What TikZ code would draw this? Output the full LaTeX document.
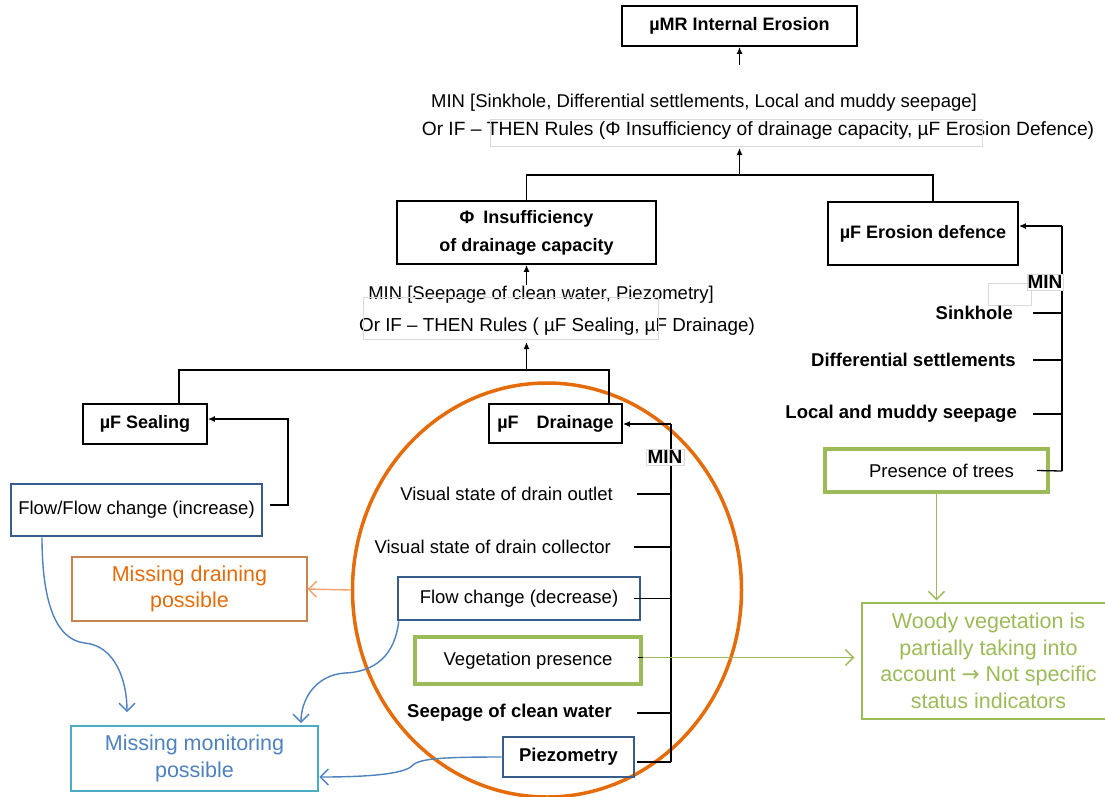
\documentclass[tikz,border=0pt]{standalone}
\usepackage{fontspec}
\setmainfont{Liberation Sans}
\newfontfamily\symfont{DejaVu Sans}
\usetikzlibrary{arrows.meta, shapes.geometric}

\definecolor{boxblue}{HTML}{385D8A}
\definecolor{leafgreen}{HTML}{9BBB59}
\definecolor{drainorange}{HTML}{E46C0A}
\definecolor{rustorange}{HTML}{C8834F}
\definecolor{paleorange}{HTML}{F2A36B}
\definecolor{skycyan}{HTML}{4BACC6}
\definecolor{textblue}{HTML}{4F81BD}

\begin{document}
\begin{tikzpicture}[
    x=1pt, y=-1pt,
    flow/.style={-{Latex[length=7pt, width=6pt]}, line width=1.3pt},
    softarrow/.style={-{Straight Barb[length=8pt, width=16pt]}, line width=1.4pt},
    bluecurve/.style={softarrow, draw=textblue},
    rule/.style={inner sep=0pt, font=\fontsize{18.5}{22}\selectfont},
    item/.style={inner sep=0pt, anchor=east, font=\fontsize{18.5}{22}\selectfont},
    bolditem/.style={item, font=\fontsize{18.5}{22}\selectfont\bfseries},
    box/.style={draw, line width=1.8pt, inner sep=0pt, align=center,
      font=\fontsize{18}{28}\selectfont\bfseries},
    bluebox/.style={draw=boxblue, line width=2.6pt, inner sep=0pt,
      font=\fontsize{18.5}{22}\selectfont},
    greenbox/.style={draw=leafgreen, line width=3.8pt, inner sep=0pt,
      font=\fontsize{18.5}{22}\selectfont},
    notebox/.style={line width=1.3pt, inner sep=0pt, align=center,
      font=\fontsize{21.5}{26.5}\selectfont},
    minlabel/.style={draw=gray!30, line width=0.6pt, fill=white, inner sep=1.5pt,
      font=\fontsize{19}{22}\selectfont\bfseries},
    ghost/.style={draw=gray!30, line width=0.6pt},
  ]
  \useasboundingbox (0,0) rectangle (1105,796);

  % ---- drainage zone (orange ellipse) ----
  \node[draw=drainorange, line width=3.5pt, ellipse, minimum width=389pt,
    minimum height=414pt] (drzone) at (547,590) {};

  % ---- top: internal erosion ----
  \node[box, minimum width=235pt, minimum height=40pt] (mr) at (739.5,26) {µMR Internal Erosion};
  \node[rule] (mrrule1) at (704,103) {MIN [Sinkhole, Differential settlements, Local and muddy seepage]};
  \node[rule, font=\fontsize{19.2}{22}\selectfont] (mrrule2) at (758,131)
    {Or IF – THEN Rules (Φ Insufficiency of drainage capacity, µF Erosion Defence)};
  \draw[ghost] (490,119) rectangle (982,146);
  \coordinate (mrin) at (739.5,65);
  \coordinate (mrjoin) at (739.5,175);
  \coordinate (mrrulebot) at (739.5,148);
  \draw[flow] (mrin) -- (mr.south);
  \draw[flow] (mrjoin) -- (mrrulebot);

  % ---- second level ----
  \node[box, minimum width=259pt, minimum height=63pt] (phi) at (526.5,232.5)
    {Φ\enspace Insufficiency\\of drainage capacity};
  \node[box, minimum width=190pt, minimum height=63pt] (ero) at (923,233.5) {µF Erosion defence};
  \draw[line width=1.3pt] (phi.north) |- (mrjoin) -| ([xshift=10pt]ero.north);

  % ---- rules under phi ----
  \node[rule] (phirule1) at (541,295) {MIN [Seepage of clean water, Piezometry]};
  \node[rule, font=\fontsize{18.8}{22}\selectfont] (phirule2) at (557,327)
    {Or IF – THEN Rules ( µF Sealing, µF Drainage)};
  \draw[ghost] (363,297) rectangle (658,339);
  \coordinate (phiin) at (526.5,285);
  \coordinate (phijoin) at (526.5,370);
  \coordinate (phirulebot) at (526.5,342);
  \draw[flow] (phiin) -- (phi.south);
  \draw[flow] (phijoin) -- (phirulebot);

  % ---- sealing ----
  \node[box, minimum width=124pt, minimum height=40pt] (seal) at (145,424) {µF Sealing};
  \node[bluebox, minimum width=251pt, minimum height=52pt] (flowup) at (136.5,510)
    {Flow/Flow change (increase)\\[-4pt]};
  \coordinate (sealbar) at (288,419);
  \draw[flow] ([xshift=7pt,yshift=5pt]flowup.east) -| (sealbar) -- (sealbar -| seal.east);

  % ---- drainage ----
  \node[box, minimum width=133pt, minimum height=39pt] (drain) at (555.5,423.5) {µF\quad Drainage};
  \draw[line width=1.3pt] ([xshift=34pt]seal.north) |- (phijoin) -| ([xshift=53.5pt]drain.north);

  \coordinate (drtop) at (671,424);
  \coordinate (drbot) at (671,762);
  \draw[line width=1.3pt] (drtop) -- (drbot);
  \draw[flow] (drtop) -- (drtop -| drain.east);
  \node[minlabel] (drmin) at (665,457) {MIN};

  \node[item] (outlet) at (613,494) {Visual state of drain outlet};
  \node[item] (collector) at (611,547) {Visual state of drain collector};
  \node[bluebox, minimum width=242pt, minimum height=43pt] (flowdown) at (519,598.5) {Flow change (decrease)};
  \node[greenbox, minimum width=226pt, minimum height=47pt] (veg) at (528,660.5) {Vegetation presence};
  \node[bolditem] (clean) at (612,713) {Seepage of clean water};
  \node[bluebox, minimum width=131pt, minimum height=40pt,
    font=\fontsize{18.5}{22}\selectfont\bfseries] (piezo) at (568.5,757) {Piezometry};

  \draw[line width=1.3pt] ([xshift=24pt]outlet.east) -- (outlet.east -| drbot);
  \draw[line width=1.3pt] ([xshift=23pt]collector.east) -- (collector.east -| drbot);
  \draw[line width=1.3pt] ([xshift=-7pt]flowdown.east) -- (flowdown.east -| drbot);
  \draw[line width=1.3pt] ([xshift=-5pt,yshift=3pt]veg.east) -- ([yshift=3pt]veg.east -| drbot);
  \draw[line width=1.3pt] ([xshift=25pt]clean.east) -- (clean.east -| drbot);
  \draw[line width=1.3pt] ([xshift=2pt]piezo.east |- drbot) -- (drbot);

  % ---- erosion defence ----
  \coordinate (ertop) at (1062,226);
  \coordinate (erbot) at (1062,471);
  \draw[line width=1.3pt] (ertop) -- (erbot);
  \draw[flow] (ertop) -- (ertop -| ero.east);
  \draw[ghost] (988,283) rectangle (1031,305);
  \node[minlabel, inner xsep=0.5pt] (ermin) at (1045,282) {MIN};

  \node[bolditem] (sink) at (1013,313) {Sinkhole};
  \node[bolditem] (diffset) at (1016,360) {Differential settlements};
  \node[bolditem] (muddy) at (1017,414) {Local and muddy seepage};
  \node[greenbox, minimum width=223pt, minimum height=43pt] (trees) at (936.5,470.5)
    {\hspace*{10pt}Presence of trees};

  \draw[line width=1.3pt] ([xshift=20pt]sink.east) -- (sink.east -| erbot);
  \draw[line width=1.3pt] ([xshift=17pt]diffset.east) -- (diffset.east -| erbot);
  \draw[line width=1.3pt] ([xshift=16pt]muddy.east) -- (muddy.east -| erbot);
  \draw[line width=1.3pt] ([xshift=-13pt]trees.east) -- (erbot);

  % ---- consequences ----
  \node[notebox, draw=rustorange, text=drainorange, minimum width=235pt,
    minimum height=64pt] (draining) at (189.5,589) {Missing draining\\possible};
  \node[notebox, draw=skycyan, line width=2.6pt, text=textblue, minimum width=247pt,
    minimum height=65pt] (monitor) at (194.5,758.5) {Missing monitoring\\possible};
  \node[notebox, draw=leafgreen, text=leafgreen, minimum width=253pt,
    minimum height=116pt] (woody) at (988.5,661)
    {Woody vegetation is\\partially taking into\\account {\symfont →} Not specific\\status indicators};

  \draw[softarrow, draw=paleorange] (drzone.west) -- (draining.east);
  \coordinate (monin1) at (127,712);
  \coordinate (monin2) at (301,723);
  \draw[bluecurve] ([xshift=-94.5pt]flowup.south) .. controls (42,600) and (55,640) .. (85,643)
    .. controls (115,646) and (127,680) .. (monin1);
  \draw[bluecurve] ([xshift=2pt]flowdown.south west) .. controls (395,655) and (375,672) .. (345,673)
    .. controls (315,675) and (301,700) .. (monin2);
  \draw[bluecurve] (piezo.west) .. controls (450,757) and (420,758) .. (413,765)
    .. controls (405,775) and (360,777) .. ([yshift=-18.5pt]monitor.east);
  \draw[softarrow, draw=leafgreen, shorten >=7pt] ([yshift=3pt]veg.east) -- ([yshift=3pt]veg.east -| woody.west);
  \draw[softarrow, draw=leafgreen, shorten >=2pt] (trees.south) -- (trees.south |- woody.north);

\end{tikzpicture}
\end{document}
